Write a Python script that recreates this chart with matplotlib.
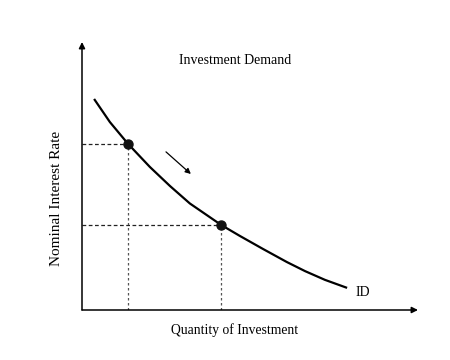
import matplotlib
matplotlib.use("Agg")
import matplotlib.pyplot as plt

# curve (quantity, interest rate)
quantity = [0.36, 0.83, 1.37, 2.02, 2.62, 3.21, 4.14, 4.70, 5.39, 6.10, 6.64, 7.23, 7.89]
rate = [6.30, 5.61, 4.96, 4.27, 3.70, 3.18, 2.54, 2.21, 1.82, 1.43, 1.16, 0.90, 0.66]

# the two marked points on the curve
point_q = [1.37, 4.14]
point_r = [4.96, 2.54]

# movement arrow along the curve
move_start = (2.50, 4.72)
move_end = (3.24, 4.06)

plt.rcParams['font.family'] = ['Liberation Serif', 'DejaVu Serif']

fig = plt.figure(figsize=(4.5, 3.6), dpi=100)
ax = fig.add_axes([82 / 450, 1 - 310 / 360, 336 / 450, 268 / 360])
ax.set_xlim(0, 10)
ax.set_ylim(0, 8)
ax.axis('off')

# axes with arrow heads
arrow_kw = dict(arrowstyle='-|>', color='black', lw=1.1, mutation_scale=9,
                shrinkA=0, shrinkB=0)
ax.annotate('', xy=(10, 0), xytext=(0, 0), arrowprops=arrow_kw, annotation_clip=False)
ax.annotate('', xy=(0, 8), xytext=(0, 0), arrowprops=arrow_kw, annotation_clip=False)

# demand curve
ax.plot(quantity, rate, color='black', lw=1.6, solid_capstyle='butt',
        solid_joinstyle='round')

# dashed guides to the axes
for q, r in zip(point_q, point_r):
    ax.plot([0, q], [r, r], color='#222222', lw=0.9, ls=(0, (3, 2)))
    ax.plot([q, q], [0, r], color='#555555', lw=0.9, ls=(0, (2, 2)))
ax.plot(point_q, point_r, 'o', color='#111111', markersize=6.5, zorder=5)

ax.annotate('', xy=move_end, xytext=move_start,
            arrowprops=dict(arrowstyle='-|>', color='black', lw=0.9,
                            mutation_scale=8, shrinkA=0, shrinkB=0))

ax.text(4.55, 7.46, 'Investment Demand', ha='center', va='center', fontsize=10)
ax.text(8.13, 0.51, 'ID', ha='left', va='center', fontsize=10)
ax.text(4.55, -0.6, 'Quantity of Investment', ha='center', va='center', fontsize=9.8)
ax.text(-0.77, 3.34, 'Nominal Interest Rate', ha='center', va='center',
        rotation=90, fontsize=11)

fig.savefig('out.png', dpi=100)
